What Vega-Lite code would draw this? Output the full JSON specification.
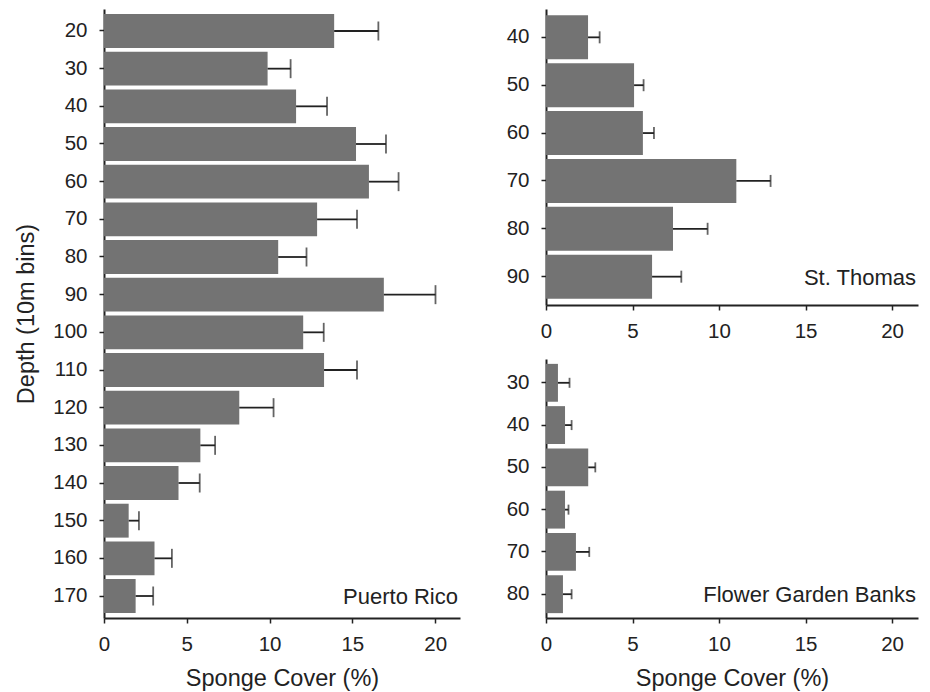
{
  "$schema": "https://vega.github.io/schema/vega-lite/v6.json",
  "padding": {"left": 14, "top": 9, "right": 5, "bottom": 5},
  "background": "white",
  "bounds": "flush",
  "spacing": 86,
  "config": {
    "font": "Liberation Sans",
    "view": {"stroke": null},
    "axis": {
      "domainColor": "#222222", "domainWidth": 2,
      "tickColor": "#222222", "tickWidth": 1.5, "tickSize": 5,
      "labelColor": "#222222", "labelFontSize": 20.5, "labelFont": "Liberation Sans",
      "titleColor": "#222222", "titleFontSize": 23.5, "titleFontWeight": "normal", "titleFont": "Liberation Sans",
      "grid": false
    },
    "axisX": {"labelPadding": 11, "titlePadding": 12, "labelFlush": false},
    "axisY": {"labelPadding": 12, "titlePadding": 14},
    "text": {"color": "#222222", "font": "Liberation Sans"}
  },
  "datasets": {
    "pr": [
      {"depth": 20, "mean": 13.9, "upper": 16.57},
      {"depth": 30, "mean": 9.88, "upper": 11.27},
      {"depth": 40, "mean": 11.6, "upper": 13.47},
      {"depth": 50, "mean": 15.22, "upper": 17.03},
      {"depth": 60, "mean": 16.0, "upper": 17.79},
      {"depth": 70, "mean": 12.87, "upper": 15.28},
      {"depth": 80, "mean": 10.52, "upper": 12.23},
      {"depth": 90, "mean": 16.9, "upper": 20.02},
      {"depth": 100, "mean": 12.03, "upper": 13.27},
      {"depth": 110, "mean": 13.29, "upper": 15.28},
      {"depth": 120, "mean": 8.17, "upper": 10.24},
      {"depth": 130, "mean": 5.82, "upper": 6.71},
      {"depth": 140, "mean": 4.5, "upper": 5.78},
      {"depth": 150, "mean": 1.49, "upper": 2.11},
      {"depth": 160, "mean": 3.05, "upper": 4.1},
      {"depth": 170, "mean": 1.91, "upper": 2.97}
    ],
    "st": [
      {"depth": 40, "mean": 2.43, "upper": 3.1},
      {"depth": 50, "mean": 5.09, "upper": 5.64},
      {"depth": 60, "mean": 5.6, "upper": 6.24},
      {"depth": 70, "mean": 11.0, "upper": 12.98},
      {"depth": 80, "mean": 7.34, "upper": 9.34},
      {"depth": 90, "mean": 6.13, "upper": 7.82}
    ],
    "fgb": [
      {"depth": 30, "mean": 0.69, "upper": 1.36},
      {"depth": 40, "mean": 1.1, "upper": 1.48},
      {"depth": 50, "mean": 2.44, "upper": 2.85},
      {"depth": 60, "mean": 1.1, "upper": 1.3},
      {"depth": 70, "mean": 1.73, "upper": 2.5},
      {"depth": 80, "mean": 0.98, "upper": 1.48}
    ],
    "labels": [
      {"site": "Puerto Rico", "depth": 170, "label": "Puerto Rico"},
      {"site": "St. Thomas", "depth": 90, "label": "St. Thomas"},
      {"site": "Flower Garden Banks", "depth": 80, "label": "Flower Garden Banks"}
    ]
  },
  "hconcat": [
    {
      "width": 356,
      "height": 609,
      "data": {"name": "pr"},
      "encoding": {
        "y": {"field": "depth", "type": "ordinal", "scale": {"paddingInner": 0.1, "paddingOuter": 0.134}, "axis": {"title": "Depth (10m bins)"}}
      },
      "layer": [
        {"mark": {"type": "bar", "color": "#737373"},
         "encoding": {"x": {"field": "mean", "type": "quantitative", "scale": {"domain": [0, 21.5], "nice": false, "zero": true}, "axis": {"title": "Sponge Cover (%)", "values": [0, 5, 10, 15, 20]}}}},
        {"mark": {"type": "rule", "color": "#222222", "strokeWidth": 1.8},
         "encoding": {"x": {"field": "mean", "type": "quantitative", "axis": {"title": "Sponge Cover (%)", "values": [0, 5, 10, 15, 20]}}, "x2": {"field": "upper"}}},
        {"mark": {"type": "tick", "color": "#222222", "thickness": 1.8, "size": 19},
         "encoding": {"x": {"field": "upper", "type": "quantitative", "axis": {"title": "Sponge Cover (%)", "values": [0, 5, 10, 15, 20]}}}},
        {"data": {"name": "labels"}, "transform": [{"filter": "datum.site == 'Puerto Rico'"}],
         "mark": {"type": "text", "align": "right", "baseline": "alphabetic", "dy": 8, "dx": -2, "fontSize": 22},
         "encoding": {"x": {"datum": 21.5, "type": "quantitative", "axis": {"title": "Sponge Cover (%)", "values": [0, 5, 10, 15, 20]}}, "text": {"field": "label"}}}
      ]
    },
    {
      "vconcat": [
        {
          "width": 372,
          "height": 296,
          "data": {"name": "st"},
          "encoding": {
            "y": {"field": "depth", "type": "ordinal", "scale": {"paddingInner": 0.08, "paddingOuter": 0.132}, "axis": {"title": null}}
          },
          "layer": [
            {"mark": {"type": "bar", "color": "#737373"},
             "encoding": {"x": {"field": "mean", "type": "quantitative", "scale": {"domain": [0, 21.5], "nice": false}, "axis": {"title": null, "values": [0, 5, 10, 15, 20]}}}},
            {"mark": {"type": "rule", "color": "#222222", "strokeWidth": 1.8},
             "encoding": {"x": {"field": "mean", "type": "quantitative", "axis": {"title": null, "values": [0, 5, 10, 15, 20]}}, "x2": {"field": "upper"}}},
            {"mark": {"type": "tick", "color": "#222222", "thickness": 1.8, "size": 12},
             "encoding": {"x": {"field": "upper", "type": "quantitative", "axis": {"title": null, "values": [0, 5, 10, 15, 20]}}}},
            {"data": {"name": "labels"}, "transform": [{"filter": "datum.site == 'St. Thomas'"}],
             "mark": {"type": "text", "align": "right", "baseline": "alphabetic", "dy": 8, "dx": -2, "fontSize": 22},
             "encoding": {"x": {"datum": 21.5, "type": "quantitative", "axis": {"title": null, "values": [0, 5, 10, 15, 20]}}, "text": {"field": "label"}}}
          ]
        },
        {
          "width": 372,
          "height": 259,
          "data": {"name": "fgb"},
          "encoding": {
            "y": {"field": "depth", "type": "ordinal", "scale": {"paddingInner": 0.104, "paddingOuter": 0.115}, "axis": {"title": null}}
          },
          "layer": [
            {"mark": {"type": "bar", "color": "#737373"},
             "encoding": {"x": {"field": "mean", "type": "quantitative", "scale": {"domain": [0, 21.5], "nice": false}, "axis": {"title": "Sponge Cover (%)", "values": [0, 5, 10, 15, 20]}}}},
            {"mark": {"type": "rule", "color": "#222222", "strokeWidth": 1.8},
             "encoding": {"x": {"field": "mean", "type": "quantitative", "axis": {"title": "Sponge Cover (%)", "values": [0, 5, 10, 15, 20]}}, "x2": {"field": "upper"}}},
            {"mark": {"type": "tick", "color": "#222222", "thickness": 1.8, "size": 10},
             "encoding": {"x": {"field": "upper", "type": "quantitative", "axis": {"title": "Sponge Cover (%)", "values": [0, 5, 10, 15, 20]}}}},
            {"data": {"name": "labels"}, "transform": [{"filter": "datum.site == 'Flower Garden Banks'"}],
             "mark": {"type": "text", "align": "right", "baseline": "alphabetic", "dy": 8, "dx": -2, "fontSize": 22},
             "encoding": {"x": {"datum": 21.5, "type": "quantitative", "axis": {"title": "Sponge Cover (%)", "values": [0, 5, 10, 15, 20]}}, "text": {"field": "label"}}}
          ]
        }
      ],
      "spacing": 54,
      "bounds": "flush"
    }
  ]
}
